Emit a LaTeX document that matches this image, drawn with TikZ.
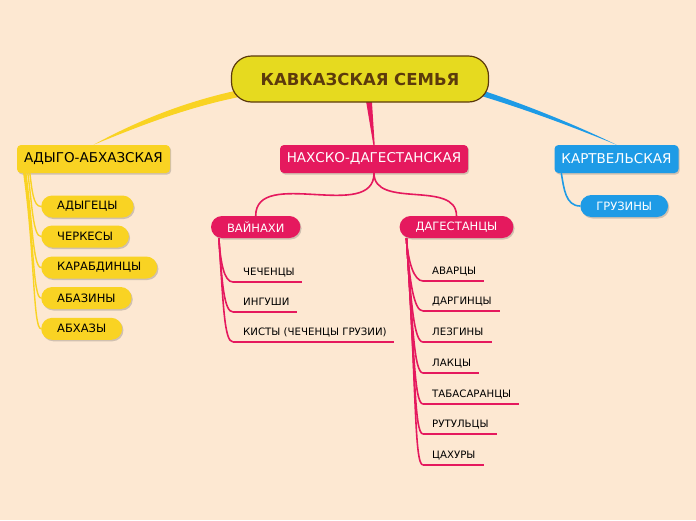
\documentclass[tikz,border=0pt]{standalone}
\usepackage{fontspec}
\setmainfont{DejaVu Sans}
\usepackage{xcolor}
\usetikzlibrary{shadows}
\definecolor{bgpeach}{HTML}{FDE8D2}
\definecolor{rootfill}{HTML}{E6DA1F}
\definecolor{rootline}{HTML}{5C3A0C}
\definecolor{cyell}{HTML}{F9D323}
\definecolor{cpink}{HTML}{E5195E}
\definecolor{cblue}{HTML}{1E9BE6}

\begin{document}
\begin{tikzpicture}[x=1pt,y=1pt]
      \tikzstyle{shade}=[drop shadow={shadow xshift=1.2pt,shadow yshift=-1.5pt,opacity=.25,fill=black!70}]
      \tikzstyle{branch}=[shade,rectangle,rounded corners=4pt,minimum height=28pt,inner xsep=0pt,font=\fontsize{13.5}{16}\selectfont]
      \tikzstyle{pill}=[shade,rectangle,rounded corners=11pt,minimum height=22pt,inner xsep=16pt,font=\fontsize{11.5}{14}\selectfont]
      \tikzstyle{leaf}=[inner sep=0pt,anchor=base west,font=\fontsize{10.2}{12}\selectfont]
      \tikzstyle{link}=[line width=1.6pt]

      \fill[bgpeach] (0,0) rectangle (696,-520);
      \useasboundingbox (0,0) rectangle (696,-520);

      % first level
      \node[branch,fill=cyell,minimum width=153pt](adyg) at (93.5,-159){АДЫГО-АБХАЗСКАЯ};
      \node[branch,fill=cpink,text=white,minimum width=188pt](nakh) at (374,-159){НАХСКО-ДАГЕСТАНСКАЯ};
      \node[branch,fill=cblue,text=white,minimum width=124pt](kart) at (616.5,-159){КАРТВЕЛЬСКАЯ};

      % tapered links from the root
      \fill[cyell] (244,-89) .. controls (185,-101) and (135,-122) .. (adyg.north)
                   .. controls (137,-127) and (187,-107) .. (244,-96) -- cycle;
      \fill[cblue] (478,-89) .. controls (530,-106) and (580,-127) .. (kart.north)
                   .. controls (578,-129) and (528,-110) .. (478,-95) -- cycle;
      \fill[cpink] (365,-95) -- ([xshift=-.7pt]nakh.north) -- ([xshift=.7pt]nakh.north) -- (371.5,-95) -- cycle;

      \node[rectangle,rounded corners=20pt,minimum width=257pt,minimum height=46pt,
            fill=rootfill,draw=rootline,line width=1.2pt,text=rootline,
            font=\fontsize{16.5}{20}\bfseries](root) at (360,-79){КАВКАЗСКАЯ СЕМЬЯ};

      % adyghe-abkhaz peoples
      \foreach \i/\t/\y/\s/\d in {1/АДЫГЕЦЫ/206.5/13/16,2/ЧЕРКЕСЫ/236.5/11/30,3/КАРАБДИНЦЫ/267.5/9/46,
                                   4/АБАЗИНЫ/298/8/62,5/АБХАЗЫ/328.8/7/78}{
        \node[pill,fill=cyell,anchor=west](a_\i) at (41,-\y){\t};
        \draw[line width=1.4pt,cyell] ([xshift=\s pt]adyg.south west) to[out=-82,in=180,out distance=\d pt,in distance=8pt] (a_\i.west);
      }

      % nakh-dagestan
      \node[pill,fill=cpink,text=white](vain) at (255.7,-227){ВАЙНАХИ};
      \node[pill,fill=cpink,text=white](dag) at (456.5,-227){ДАГЕСТАНЦЫ};
      \draw[link,cpink] (nakh.south) to[out=-90,in=90] (vain.north);
      \draw[link,cpink] (nakh.south) to[out=-90,in=90] (dag.north);

      \foreach \i/\t/\y/\d in {1/ЧЕЧЕНЦЫ/282/24,2/ИНГУШИ/312/44,3/КИСТЫ (ЧЕЧЕНЦЫ ГРУЗИИ)/342/64}{
        \node[leaf](v_\i) at (243,-\y+7){\t};
        \draw[link,cpink] ([shift={(-10,-7)}]v_\i.base west) -- ([shift={(7.5,-7)}]v_\i.base east);
        \draw[link,cpink] ([xshift=8pt]vain.south west) to[out=-86,in=180,out distance=\d pt,in distance=9pt] ([shift={(-10,-7)}]v_\i.base west);
      }

      \foreach \i/\t/\y/\d in {1/АВАРЦЫ/281/24,2/ДАРГИНЦЫ/311/44,3/ЛЕЗГИНЫ/342/64,4/ЛАКЦЫ/373/85,
                               5/ТАБАСАРАНЦЫ/404/106,6/РУТУЛЬЦЫ/434/126,7/ЦАХУРЫ/465/147}{
        \node[leaf](d_\i) at (432,-\y+7){\t};
        \draw[link,cpink] ([shift={(-9,-7)}]d_\i.base west) -- ([shift={(8,-7)}]d_\i.base east);
        \draw[link,cpink] ([xshift=7pt]dag.south west) to[out=-86,in=180,out distance=\d pt,in distance=9pt] ([shift={(-9,-7)}]d_\i.base west);
      }

      % kartvelian
      \node[pill,fill=cblue,text=white](gruz) at (624.2,-206){ГРУЗИНЫ};
      \draw[link,cblue] ([xshift=7pt]kart.south west) to[out=-80,in=180] (gruz.west);
\end{tikzpicture}
\end{document}
